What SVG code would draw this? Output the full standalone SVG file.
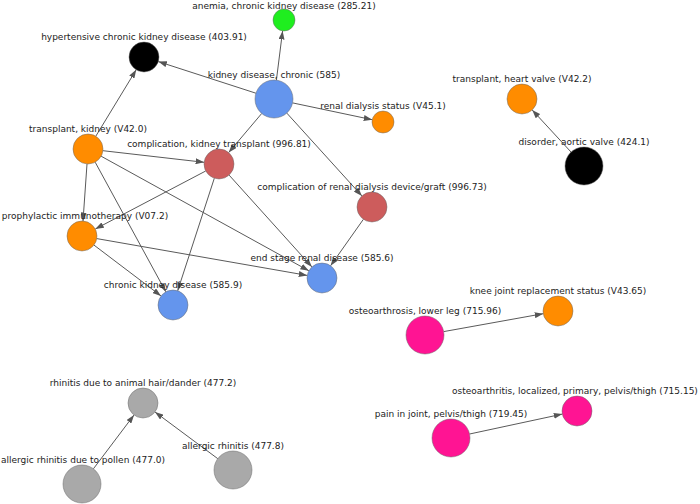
<svg xmlns="http://www.w3.org/2000/svg" width="700" height="504" viewBox="0 0 700 504">
<defs>
<marker id="arr" markerUnits="userSpaceOnUse" markerWidth="9" markerHeight="6" refX="8.5" refY="3" orient="auto"><path d="M0,0 L8.5,3 L0,6 z" fill="#555"/></marker>
<style>
.e{stroke:#5a5a5a;stroke-width:1;fill:none;marker-end:url(#arr)}
.n{stroke:#666;stroke-opacity:0.6;stroke-width:0.8}
.l{font-family:"DejaVu Sans","Liberation Sans",sans-serif;font-size:9px;fill:#222;text-anchor:middle}
.blue{fill:#6495ED}.orange{fill:#FF8C00}.red{fill:#CD5C5C}.green{fill:#1FEE1F}.pink{fill:#FF1493}.gray{fill:#A9A9A9}.black{fill:#000}
</style>
</defs>
<rect width="700" height="504" fill="#fff"/>
<g id="edges">
<line class="e" x1="276.4" y1="80.2" x2="282.6" y2="30.9"/>
<line class="e" x1="255.9" y1="93.2" x2="158.3" y2="61.6"/>
<line class="e" x1="292.6" y1="102.9" x2="372.2" y2="119.7"/>
<line class="e" x1="261.7" y1="113.5" x2="228.7" y2="152.5"/>
<line class="e" x1="286.8" y1="113.1" x2="361.9" y2="195.9"/>
<line class="e" x1="95.8" y1="136.2" x2="136.2" y2="69.8"/>
<line class="e" x1="102.9" y1="150.7" x2="204.1" y2="162.3"/>
<line class="e" x1="87.0" y1="164.0" x2="83.0" y2="221.0"/>
<line class="e" x1="95.2" y1="162.2" x2="165.8" y2="291.8"/>
<line class="e" x1="101.1" y1="156.2" x2="308.9" y2="270.8"/>
<line class="e" x1="205.7" y1="171.0" x2="95.3" y2="229.0"/>
<line class="e" x1="214.3" y1="178.3" x2="177.7" y2="290.7"/>
<line class="e" x1="229.1" y1="175.1" x2="311.9" y2="266.9"/>
<line class="e" x1="363.4" y1="219.3" x2="330.6" y2="265.7"/>
<line class="e" x1="96.8" y1="238.6" x2="307.2" y2="275.4"/>
<line class="e" x1="94.0" y1="245.1" x2="161.0" y2="295.9"/>
<line class="e" x1="571.1" y1="152.1" x2="532.2" y2="110.0"/>
<line class="e" x1="443.7" y1="331.6" x2="543.2" y2="313.7"/>
<line class="e" x1="469.6" y1="434.0" x2="562.3" y2="414.1"/>
<line class="e" x1="93.4" y1="468.8" x2="134.0" y2="415.0"/>
<line class="e" x1="217.8" y1="458.7" x2="155.0" y2="412.0"/>
</g>
<g id="n-anemia"><circle class="n green" cx="284" cy="20" r="11"/><text class="l" x="284" y="9">anemia, chronic kidney disease (285.21)</text></g>
<g id="n-hypertensive"><circle class="n black" cx="144" cy="57" r="15"/><text class="l" x="144" y="40">hypertensive chronic kidney disease (403.91)</text></g>
<g id="n-kidney-chronic"><circle class="n blue" cx="274" cy="99" r="19"/><text class="l" x="274" y="78">kidney disease, chronic (585)</text></g>
<g id="n-renal-dialysis-status"><circle class="n orange" cx="383" cy="122" r="11"/><text class="l" x="383" y="109">renal dialysis status (V45.1)</text></g>
<g id="n-transplant-kidney"><circle class="n orange" cx="88" cy="149" r="15"/><text class="l" x="88" y="132">transplant, kidney (V42.0)</text></g>
<g id="n-complication-transplant"><circle class="n red" cx="219" cy="164" r="15"/><text class="l" x="219" y="147">complication, kidney transplant (996.81)</text></g>
<g id="n-complication-dialysis"><circle class="n red" cx="372" cy="207" r="15"/><text class="l" x="372" y="190">complication of renal dialysis device/graft (996.73)</text></g>
<g id="n-prophylactic"><circle class="n orange" cx="82" cy="236" r="15"/><text class="l" x="85" y="219">prophylactic immunotherapy (V07.2)</text></g>
<g id="n-end-stage"><circle class="n blue" cx="322" cy="278" r="15"/><text class="l" x="322" y="261">end stage renal disease (585.6)</text></g>
<g id="n-ckd"><circle class="n blue" cx="173" cy="305" r="15"/><text class="l" x="173" y="288">chronic kidney disease (585.9)</text></g>
<g id="n-heart-valve"><circle class="n orange" cx="522" cy="99" r="15"/><text class="l" x="522" y="82">transplant, heart valve (V42.2)</text></g>
<g id="n-aortic-valve"><circle class="n black" cx="584" cy="166" r="19"/><text class="l" x="584" y="145">disorder, aortic valve (424.1)</text></g>
<g id="n-knee"><circle class="n orange" cx="558" cy="311" r="15"/><text class="l" x="558" y="294">knee joint replacement status (V43.65)</text></g>
<g id="n-osteoarthrosis"><circle class="n pink" cx="425" cy="335" r="19"/><text class="l" x="425" y="314">osteoarthrosis, lower leg (715.96)</text></g>
<g id="n-rhinitis-animal"><circle class="n gray" cx="143" cy="403" r="15"/><text class="l" x="143" y="386">rhinitis due to animal hair/dander (477.2)</text></g>
<g id="n-rhinitis-pollen"><circle class="n gray" cx="82" cy="484" r="19"/><text class="l" x="83" y="463">allergic rhinitis due to pollen (477.0)</text></g>
<g id="n-allergic-rhinitis"><circle class="n gray" cx="233" cy="470" r="19"/><text class="l" x="233" y="449">allergic rhinitis (477.8)</text></g>
<g id="n-osteoarthritis-localized"><circle class="n pink" cx="577" cy="411" r="15"/><text class="l" x="575" y="394">osteoarthritis, localized, primary, pelvis/thigh (715.15)</text></g>
<g id="n-pain-joint"><circle class="n pink" cx="451" cy="438" r="19"/><text class="l" x="451" y="417">pain in joint, pelvis/thigh (719.45)</text></g>
</svg>
